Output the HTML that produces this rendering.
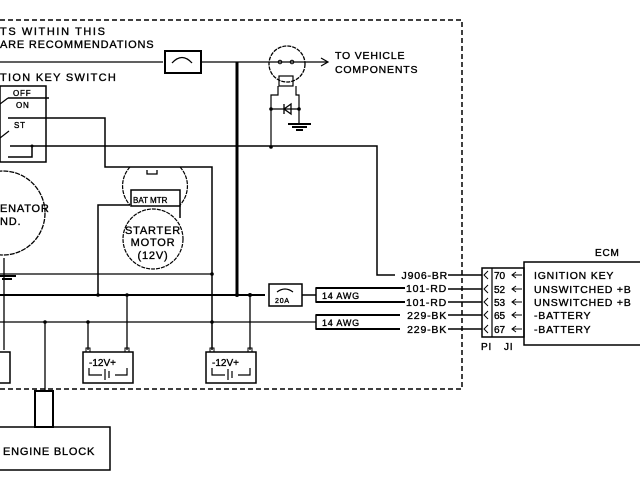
<!DOCTYPE html>
<html><head><style>
html,body{margin:0;padding:0;background:#fff;}
svg{display:block;}
text{font-family:"Liberation Sans",sans-serif;font-size:11px;fill:#000;stroke:#000;stroke-width:0.35;letter-spacing:0.8px;}
</style></head><body>
<svg width="640" height="480" viewBox="0 0 640 480" xmlns="http://www.w3.org/2000/svg">
<g fill="none" stroke="#000">
<path d="M0 20 H462 V389 H0" stroke-width="1.5" stroke-dasharray="5,3"/>
<path d="M0 62 H163 M201 62 H327" stroke-width="1.3"/>
<path d="M321 58 L328 62 L321 66" stroke-width="1.2"/>
<rect x="165" y="51" width="36" height="22" stroke-width="2"/>
<path d="M172 63 Q182 52 192 63" stroke-width="1.3"/>
<path d="M237 62 V295" stroke-width="3"/>
<circle cx="287" cy="64" r="18" stroke-width="1.3" stroke-dasharray="4,1"/>
<rect x="279" y="76" width="14" height="10" stroke-width="1.2"/>
<circle cx="280" cy="62" r="1.8" stroke-width="1"/><circle cx="292" cy="62" r="1.8" stroke-width="1"/>
<path d="M278 86 V95 H271 V147 M296 86 V95 H299 V124 M271 109 H299" stroke-width="1.2"/>
<path d="M284 104 V114 M284 109 L291 104 V114 Z" stroke-width="1.3"/>
<path d="M288 124 H311 M292 127 H307 M296 130 H303" stroke-width="2"/>
<rect x="0" y="86" width="46" height="76" stroke-width="1.5"/>
<path d="M8 98 H49 M8 118 H49 M10 146 H49 M8 157 H32 V146" stroke-width="1.5"/>
<path d="M0 104 L8 98 M0 138 L9 131" stroke-width="1.2"/>
<path d="M49 118 H105 V167 H212 V350" stroke-width="1.5"/>
<path d="M49 146 H377 V275 H395" stroke-width="1.5"/>
<path d="M130 167 A28 28 0 0 0 130 205 M180 167 A28 28 0 0 1 180 205" stroke-width="1.2" stroke-dasharray="4,1"/>
<path d="M147 170 V174 H157 V170" stroke-width="1.3"/>
<rect x="131" y="190" width="49" height="16" stroke-width="1.5"/>
<path d="M130 205 H98 V295 M180 205 V218" stroke-width="1.5"/>
<circle cx="153" cy="239" r="30" stroke-width="1.2" stroke-dasharray="4,1"/>
<circle cx="3" cy="213" r="42" stroke-width="1.3" stroke-dasharray="5,1"/>
<path d="M4 258 V350 M0 274 H212" stroke-width="1.3"/>
<path d="M0 276 H16 M2 279 H12" stroke-width="2"/>
<path d="M0 295 H265" stroke-width="2"/>
<path d="M127 295 V350 M250 295 V350" stroke-width="1.3"/>
<rect x="269" y="284" width="33" height="22" stroke-width="1.5"/>
<path d="M277 292 Q285 286 293 292" stroke-width="1.2"/>
<path d="M302 295 H316" stroke-width="1.5"/>
<path d="M0 322 H316 M45 322 V390 M88 322 V350" stroke-width="1.3"/>
<path d="M320 288 H316 V302 H320 M320 315 H316 V329 H320" stroke-width="1.5"/>
<path d="M316 288 H405 M316 302 H405 M316 315 H400 M316 329 H400" stroke-width="2"/>
<path d="M448 275 H482 M448 289 H482 M448 302 H482 M448 315 H482 M448 329 H482" stroke-width="1.5"/>
<rect x="-2" y="352" width="12" height="31" stroke-width="1.5"/>
<rect x="83" y="352" width="50" height="31" stroke-width="1.5"/>
<rect x="206" y="352" width="50" height="31" stroke-width="1.5"/>
<path d="M89 368 V375 H102 M127 368 V375 H115 M105 369 V380 M109 371 V378 M212 368 V375 H225 M250 368 V375 H238 M228 369 V380 M232 371 V378" stroke-width="1.2"/>
<rect x="86" y="348" width="4" height="4" stroke-width="1"/>
<rect x="125" y="348" width="4" height="4" stroke-width="1"/>
<rect x="210" y="348" width="4" height="4" stroke-width="1"/>
<rect x="248" y="348" width="4" height="4" stroke-width="1"/>
<rect x="35" y="391" width="18" height="36" stroke-width="2"/>
<rect x="-2" y="427" width="112" height="43" stroke-width="1.5"/>
<rect x="482" y="268" width="42" height="69" stroke-width="1.5"/>
<path d="M492 268 V337" stroke-width="1.2"/>
<rect x="524" y="262" width="120" height="83" stroke-width="1.5"/>
<path d="M488 271 L484 275 L488 279 M488 285 L484 289 L488 293 M488 298 L484 302 L488 306 M488 311 L484 315 L488 319 M488 325 L484 329 L488 333" stroke-width="1"/>
<path d="M512 275 H522 M516 272 L512 275 L516 278 M512 289 H522 M516 286 L512 289 L516 292 M512 302 H522 M516 299 L512 302 L516 305 M512 315 H522 M516 312 L512 315 L516 318 M512 329 H522 M516 326 L512 329 L516 332" stroke-width="1"/>
</g>
<g fill="#000">
<circle cx="98" cy="295" r="1.8"/><circle cx="127" cy="295" r="1.8"/><circle cx="237" cy="295" r="2"/><circle cx="250" cy="295" r="2"/>
<circle cx="45" cy="322" r="1.8"/><circle cx="88" cy="322" r="1.8"/><circle cx="212" cy="322" r="1.8"/><circle cx="212" cy="274" r="1.8"/>
<circle cx="271" cy="147" r="1.8"/><circle cx="271" cy="109" r="1.8"/><circle cx="299" cy="109" r="1.8"/><circle cx="32" cy="146" r="1.5"/>
</g>
<text x="0" y="35" style="letter-spacing:1.6px">TS WITHIN THIS</text>
<text x="0" y="48">ARE RECOMMENDATIONS</text>
<text x="0" y="81" style="letter-spacing:1.3px">TION KEY SWITCH</text>
<text x="335" y="59" style="font-size:10.5px">TO VEHICLE</text>
<text x="335" y="73" style="font-size:10.5px">COMPONENTS</text>
<text x="13" y="96" style="font-size:8px">OFF</text>
<text x="16" y="108" style="font-size:8px">ON</text>
<text x="14" y="128" style="font-size:8px">ST</text>
<text x="0" y="212">ENATOR</text>
<text x="0" y="225">ND.</text>
<text x="133" y="203" style="font-size:8px;letter-spacing:0">BAT MTR</text>
<text x="153" y="234" text-anchor="middle">STARTER</text>
<text x="153" y="246" text-anchor="middle">MOTOR</text>
<text x="153" y="259" text-anchor="middle">(12V)</text>
<text x="275" y="303" style="font-size:7px">20A</text>
<text x="322" y="299" style="font-size:9px">14 AWG</text>
<text x="322" y="326" style="font-size:9px">14 AWG</text>
<text x="448" y="279" text-anchor="end" style="font-size:10.5px">J906-BR</text>
<text x="447" y="292" text-anchor="end" style="font-size:10.5px">101-RD</text>
<text x="447" y="306" text-anchor="end" style="font-size:10.5px">101-RD</text>
<text x="447" y="319" text-anchor="end" style="font-size:10.5px">229-BK</text>
<text x="447" y="333" text-anchor="end" style="font-size:10.5px">229-BK</text>
<text x="494" y="279" style="font-size:10px;letter-spacing:0">70</text>
<text x="494" y="293" style="font-size:10px;letter-spacing:0">52</text>
<text x="494" y="306" style="font-size:10px;letter-spacing:0">53</text>
<text x="494" y="319" style="font-size:10px;letter-spacing:0">65</text>
<text x="494" y="333" style="font-size:10px;letter-spacing:0">67</text>
<text x="595" y="256" style="font-size:10px">ECM</text>
<text x="534" y="279" style="font-size:10.5px">IGNITION KEY</text>
<text x="534" y="293" style="font-size:10.5px">UNSWITCHED +B</text>
<text x="534" y="306" style="font-size:10.5px">UNSWITCHED +B</text>
<text x="534" y="319" style="font-size:10.5px">-BATTERY</text>
<text x="534" y="333" style="font-size:10.5px">-BATTERY</text>
<text x="481" y="350" style="font-size:10px">PI</text>
<text x="504" y="350" style="font-size:10px">JI</text>
<text x="89" y="366" style="font-size:10px;letter-spacing:0">-12V+</text>
<text x="212" y="366" style="font-size:10px;letter-spacing:0">-12V+</text>
<text x="3" y="455">ENGINE BLOCK</text>
</svg>
</body></html>
